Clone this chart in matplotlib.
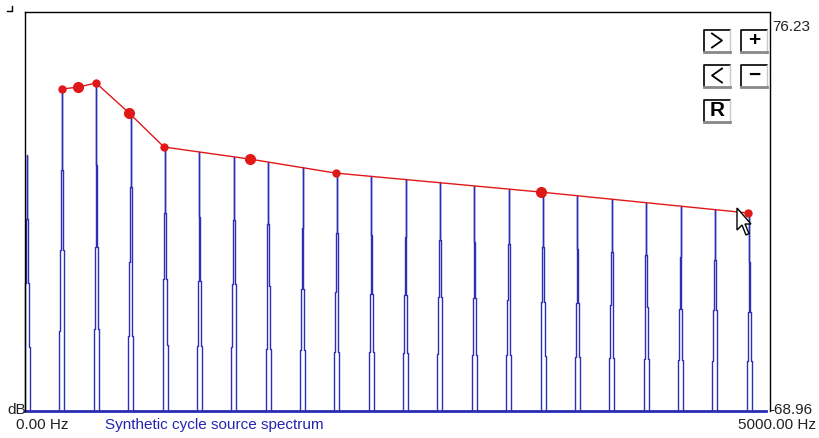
import matplotlib
matplotlib.use("Agg")
import matplotlib.pyplot as plt
from matplotlib.patches import Rectangle, Polygon
from matplotlib.lines import Line2D

plt.rcParams['font.family'] = ['Liberation Sans', 'DejaVu Sans']

# Axis range (Hz, dB)
f_min, f_max = 0.0, 5000.0
db_min, db_max = -68.96, 76.23

# Harmonic peaks of the spectrum (Hz, dB)
harm_freq = [14, 248, 479, 710, 940, 1171, 1402, 1632, 1863, 2093, 2324,
             2555, 2785, 3016, 3247, 3477, 3708, 3938, 4169, 4400, 4630, 4861]
harm_db = [24.2, 48.2, 50.4, 39.5, 27.1, 25.3, 23.5, 21.7, 19.7, 17.6, 16.5,
           15.3, 14.2, 13.0, 11.9, 10.7, 9.4, 8.2, 6.9, 5.6, 4.4, 3.1]

# Envelope control points (Hz, dB)
env_freq = [248, 356, 477, 698, 933, 1510, 2087, 3463, 4852]
env_db = [48.2, 48.9, 50.4, 39.5, 27.1, 22.7, 17.6, 10.7, 3.1]
env_big = [False, True, False, True, False, True, False, True, False]

BLUE = '#2e2eb4'
RED = '#e01818'

W, H = 819, 438
fig = plt.figure(figsize=(W / 100, H / 100), dpi=100)
ax = fig.add_axes([25 / W, 1 - 411 / H, 745 / W, 399 / H])
ax.set_xlim(f_min, f_max)
ax.set_ylim(db_min, db_max)
ax.set_xticks([])
ax.set_yticks([])
for s in ['left', 'top', 'right']:
    ax.spines[s].set_color('black')
    ax.spines[s].set_linewidth(1.0)
ax.spines['bottom'].set_visible(False)

# spectrum outline: each peak is a narrow spike, widening in steps towards the floor
half_w = [17, 11, 5, 0]   # Hz, from bottom quarter to top quarter
xs, ys = [f_min], [db_min]
for f, top in zip(harm_freq, harm_db):
    h = top - db_min
    lv = [db_min + q * h for q in (0, 0.25, 0.5, 0.75)] + [top]
    left_x, left_y = [], []
    for i in range(4):
        left_x += [f - half_w[i], f - half_w[i]]
        left_y += [lv[i], lv[i + 1]]
    xs += left_x + [2 * f - x for x in left_x[::-1]]
    ys += left_y + left_y[::-1]
xs.append(f_max * 0.995)
ys.append(db_min)
ax.plot(xs, ys, color=BLUE, lw=1.0, clip_on=False)
ax.plot([f_min, f_max * 0.995], [db_min, db_min], color=BLUE, lw=2.0, clip_on=False)

# envelope
ax.plot(env_freq, env_db, color=RED, lw=1.0)
for f, d, big in zip(env_freq, env_db, env_big):
    ax.plot(f, d, 'o', color=RED, ms=7 if big else 5, mec=RED)


def px(x, y):
    return x / W, 1 - y / H


def fig_line(xy, **kw):
    xx, yy = zip(*[px(a, b) for a, b in xy])
    fig.add_artist(Line2D(xx, yy, transform=fig.transFigure, **kw))


# labels around the plot
fig.text(*px(772, 27), f'{db_max:.2f}', fontsize=11, va='center', ha='left', color='#222222')
fig.text(*px(769, 410), f'-{abs(db_min):.2f}', fontsize=11, va='center', ha='left', color='#222222')
fig.text(*px(7, 410), 'dB', fontsize=11, va='center', ha='left', color='#222222')
fig.text(*px(16, 425), f'{f_min:.2f} Hz', fontsize=11, va='center', ha='left', color='#222222')
fig.text(*px(816, 425), f'{f_max:.2f} Hz', fontsize=11, va='center', ha='right', color='#222222')
fig.text(*px(105, 425), 'Synthetic cycle source spectrum', fontsize=11, va='center',
         ha='left', color='#2424b0')
fig_line([(7, 11), (12, 11), (12, 6)], color='black', lw=1.0)

# zoom / scroll buttons
buttons = [('>', 704, 30), ('+', 741, 30), ('<', 704, 65), ('\u2212', 741, 65), ('R', 704, 100)]
bw, bh = 26, 23
for label, bx, by in buttons:
    x0, y0 = px(bx, by + bh)
    fig.add_artist(Rectangle((x0, y0), bw / W, bh / H, transform=fig.transFigure,
                             facecolor='white', edgecolor='none'))
    fig_line([(bx, by + bh - 2), (bx, by), (bx + bw, by)], color='black', lw=1.2)
    fig_line([(bx + bw, by), (bx + bw, by + bh)], color='#c8c8c8', lw=1.0)
    fig_line([(bx, by + bh - 1), (bx + bw, by + bh - 1)], color='#888888', lw=2.0)
    cx, cy = bx + bw / 2, by + bh / 2 - 1
    if label == '>':
        fig_line([(cx - 5, cy - 7), (cx + 5, cy), (cx - 5, cy + 7)], color='black', lw=1.3)
    elif label == '<':
        fig_line([(cx + 5, cy - 7), (cx - 5, cy), (cx + 5, cy + 7)], color='black', lw=1.3)
    else:
        fig.text(*px(cx, cy), label, fontsize=15, fontweight='bold',
                 ha='center', va='center', color='black')

# mouse pointer
tip_x, tip_y = 737, 208
arrow = [(0, 0), (0, 22), (5, 17), (9, 27), (12, 25.5), (8, 16), (14, 16)]
pts = [px(tip_x + a, tip_y + b) for a, b in arrow]
fig.add_artist(Polygon(pts, closed=True, transform=fig.transFigure,
                       facecolor='white', edgecolor='black', lw=1.0))

fig.savefig('out.png', dpi=100)
